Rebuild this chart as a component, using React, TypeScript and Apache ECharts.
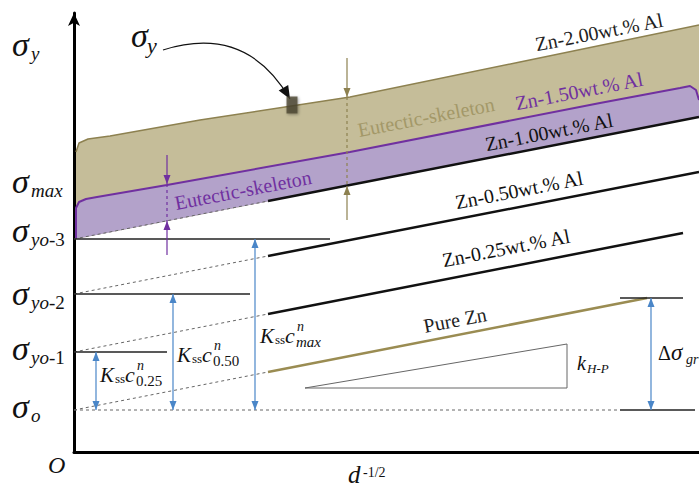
import React, { useEffect, useRef } from "react";
import * as echarts from "echarts";

// Hall–Petch schematic for Zn–Al alloys: x is d^-1/2, y is yield stress (arbitrary units).

// stress levels marked on the vertical axis
const sigmaO = 42;
const sigmaYo1 = 100;
const sigmaYo2 = 158;
const sigmaYo3 = 213;

// vertical-axis labels (σ with subscript) and where they sit
const yLabelSub = ["y", "max", "yo-3", "yo-2", "yo-1", "o"];
const yLabelAt = [404, 267, 218, 155, 100, 42];

// Hall–Petch lines: dashed extrapolation from the axis, then the solid measured range
const pureZn = [[0, 42], [194, 80], [573, 154]];
const zn025 = [[0, 100], [194, 138], [609, 219]];
const zn050 = [[0, 158], [194, 196], [625, 280]];
const zn100 = [[0, 213], [194, 251], [625, 335]];

// upper boundaries of the eutectic-skeleton bands
const zn150Edge = [[2, 213], [2, 244], [5, 250], [12, 253], [23, 255], [93, 267], [276, 300], [526, 349], [606, 364], [616, 366], [622, 362], [625, 352]];
const zn200Edge = [[2, 300], [5, 309], [14, 313], [36, 316], [126, 332], [276, 355], [446, 390], [625, 427]];

// horizontal reference lines σyo-1..3 and their right ends
const levelValues = [sigmaYo1, sigmaYo2, sigmaYo3];
const levelEnds = [93, 176, 256];

// σo baseline and the Δσgr bracket
const sigmaODashEnd = 546;
const grTopLine = [[546, 154], [609, 154]];
const grBottomLine = [[546, 42], [621, 42]];

// solid-solution arrows Kss·c^n from σo
const kssArrowX = [22, 99, 181, 577];
const kssArrowTop = [sigmaYo1, sigmaYo2, sigmaYo3, 154];
const kssLabelAt = [[26, 70], [103, 90], [186, 109]];
const kssLabelSub = ["0.25", "0.50", "max"];

// eutectic-skeleton thickness markers: [x, outer top, top, bottom, outer bottom]
const oliveBracket = [273, 394, 355, 266, 232];
const purpleBracket = [93, 297, 268, 231, 197];

// slope triangle k_H-P
const hpTriangle = [[231, 64], [493, 64], [493, 108], [231, 64]];

// σy pointer
const sigmaYPoint = [218, 347];
const sigmaYArrow = [[89, 402], [216, 353]];
const sigmaYLabelAt = [57, 405];

// captions along the lines
const captionText = [
  "Zn-2.00wt.% Al",
  "Zn-1.50wt.% Al",
  "Zn-1.00wt.% Al",
  "Eutectic-skeleton",
  "Eutectic-skeleton",
  "Zn-0.50wt.% Al",
  "Zn-0.25wt.% Al",
  "Pure Zn",
];
const captionX = [525, 505, 475, 352, 169, 445, 432, 381];
const captionY = [420, 361, 320, 335, 262, 262, 204, 132];

const kHPLabelAt = [503, 82];
const deltaGrLabelAt = [584, 92];
const originLabelAt = [-26, -21];
const xTitleAt = [274, -31];

// ---- styling ----
const SERIF = '"Liberation Serif", "Times New Roman", serif';
const OLIVE_FILL = "#c5bd99";
const OLIVE_LINE = "#8d8150";
const OLIVE_TEXT = "#a39868";
const PURPLE_FILL = "#b3a2ca";
const PURPLE = "#7030a0";
const BLUE = "#4a86c8";
const PURE_ZN = "#9a8c52";
const DASH_GREY = "#666";
const captionColors = ["#222", PURPLE, "#111", OLIVE_TEXT, PURPLE, "#111", "#111", "#222"];

const txt = (x: number, base: number, text: string, size: number, italic: boolean, color = "#111", align = "left") => ({
  type: "text",
  x,
  y: base - 0.34 * size,
  style: {
    text,
    fontSize: size,
    fontFamily: SERIF,
    fontStyle: italic ? "italic" : "normal",
    fill: color,
    align,
    verticalAlign: "middle",
  },
});

// subscript whose leading letters are italic and the rest upright ("yo-3")
const subText = (x: number, base: number, s: string, size: number, color = "#111") => {
  const m = s.match(/^([a-z]*)(.*)$/) as RegExpMatchArray;
  const parts = [];
  if (m[1]) parts.push(`{i|${m[1]}}`);
  if (m[2]) parts.push(`{u|${m[2]}}`);
  return {
    type: "text",
    x,
    y: base - 0.34 * size,
    style: {
      text: parts.join(""),
      align: "left",
      verticalAlign: "middle",
      rich: {
        i: { fontStyle: "italic", fontSize: size, fontFamily: SERIF, fill: color },
        u: { fontSize: size, fontFamily: SERIF, fill: color },
      },
    },
  };
};

const arrowHead = (tip: number[], from: number[], len: number, hw: number, color: string) => {
  const dx = tip[0] - from[0];
  const dy = tip[1] - from[1];
  const d = Math.hypot(dx, dy) || 1;
  const ux = dx / d;
  const uy = dy / d;
  const bx = tip[0] - ux * len;
  const by = tip[1] - uy * len;
  return {
    type: "polygon",
    shape: { points: [tip, [bx - uy * hw, by + ux * hw], [bx + uy * hw, by - ux * hw]] },
    style: { fill: color },
  };
};

const lineSeries = (data: number[][], color: string, width: number, dashed = false, z = 4) => ({
  type: "line",
  data,
  symbol: "none",
  silent: true,
  clip: false,
  z,
  lineStyle: { color, width, type: dashed ? [3, 3] : "solid" },
});

// vertical arrows: segments [x, from, to], head at "to" (and at "from" when double)
const arrowSeries = (segs: number[][], color: string, double: boolean) => ({
  type: "custom",
  z: 6,
  silent: true,
  data: segs.map((s) => [s[0], s[1]]),
  renderItem: (params: any, api: any) => {
    const s = segs[params.dataIndex];
    const a = api.coord([s[0], s[1]]);
    const b = api.coord([s[0], s[2]]);
    const children: any[] = [
      { type: "line", shape: { x1: a[0], y1: a[1], x2: b[0], y2: b[1] }, style: { stroke: color, lineWidth: 1.2 } },
      arrowHead(b, a, 9, 3.5, color),
    ];
    if (double) children.push(arrowHead(a, b, 9, 3.5, color));
    return { type: "group", children };
  },
});

const polygonSeries = (points: number[][], fill: string, z: number) => ({
  type: "custom",
  z,
  silent: true,
  data: [points[0]],
  renderItem: (_p: any, api: any) => ({
    type: "polygon",
    shape: { points: points.map((p) => api.coord(p)) },
    style: { fill },
  }),
});

const hpLines = [pureZn, zn025, zn050, zn100];
const hpSolidColors = [PURE_ZN, "#111", "#111", "#111"];

function buildOption(): any {
  const series: any[] = [];

  // bands
  series.push(polygonSeries([[2, 213], ...zn200Edge, zn100[2]], OLIVE_FILL, 1));
  series.push(polygonSeries([...zn150Edge, zn100[2]], PURPLE_FILL, 2));
  series.push(lineSeries(zn200Edge, OLIVE_LINE, 1.5, false, 3));
  series.push(lineSeries(zn150Edge, PURPLE, 2, false, 3));

  // Hall–Petch lines
  hpLines.forEach((l, i) => {
    series.push(lineSeries([l[0], l[1]], DASH_GREY, 1, true));
    series.push(lineSeries([l[1], l[2]], hpSolidColors[i], 2.5));
  });

  // reference levels
  levelValues.forEach((v, i) => series.push(lineSeries([[0, v], [levelEnds[i], v]], "#222", 1.6)));
  series.push(lineSeries([[0, sigmaO], [sigmaODashEnd, sigmaO]], DASH_GREY, 1, true));
  series.push(lineSeries(grTopLine, "#222", 1.6));
  series.push(lineSeries(grBottomLine, "#222", 1.6));

  // slope triangle
  series.push(lineSeries(hpTriangle, "#666", 1));

  // Kss c^n arrows
  series.push(arrowSeries(kssArrowX.map((x, i) => [x, sigmaO, kssArrowTop[i]]), BLUE, true));

  // eutectic-skeleton markers
  const ob = oliveBracket;
  series.push(arrowSeries([[ob[0], ob[1], ob[2]], [ob[0], ob[4], ob[3]]], OLIVE_LINE, false));
  series.push(lineSeries([[ob[0], ob[2]], [ob[0], ob[3]]], OLIVE_LINE, 1.2, true, 6));
  const pb = purpleBracket;
  series.push(arrowSeries([[pb[0], pb[1], pb[2]], [pb[0], pb[4], pb[3]]], PURPLE, false));
  series.push(lineSeries([[pb[0], pb[2]], [pb[0], pb[3]]], PURPLE, 1.2, true, 6));

  // σy sample point and pointer
  series.push({
    type: "scatter",
    data: [sigmaYPoint],
    symbol: "rect",
    symbolSize: [11, 17],
    silent: true,
    z: 7,
    itemStyle: { color: "#4a432f", shadowBlur: 3, shadowColor: "rgba(0,0,0,0.45)", shadowOffsetX: 1, shadowOffsetY: 1 },
  });
  series.push({
    type: "custom",
    z: 7,
    silent: true,
    data: [sigmaYArrow[0]],
    renderItem: (_p: any, api: any) => {
      const a = api.coord(sigmaYArrow[0]);
      const b = api.coord(sigmaYArrow[1]);
      const c = 0.4;
      const cp = [(a[0] + b[0]) / 2 - (a[1] - b[1]) * c, (a[1] + b[1]) / 2 - (b[0] - a[0]) * c];
      const lp = api.coord(sigmaYLabelAt);
      return {
        type: "group",
        children: [
          {
            type: "bezierCurve",
            shape: { x1: a[0], y1: a[1], x2: b[0], y2: b[1], cpx1: cp[0], cpy1: cp[1] },
            style: { stroke: "#111", lineWidth: 1.2, fill: null },
          },
          arrowHead(b, cp, 13, 5.5, "#111"),
          txt(lp[0], lp[1], "σ", 34, true),
          txt(lp[0] + 16, lp[1] + 6, "y", 22, true),
        ],
      };
    },
  });

  // rotated captions
  series.push({
    type: "custom",
    z: 8,
    silent: true,
    data: captionX.map((x, i) => [x, captionY[i]]),
    renderItem: (params: any, api: any) => {
      const i = params.dataIndex;
      const p = api.coord([captionX[i], captionY[i]]);
      const q0 = api.coord(zn050[1]);
      const q1 = api.coord(zn050[2]);
      const ang = -Math.atan2(q1[1] - q0[1], q1[0] - q0[0]);
      return {
        type: "text",
        x: p[0],
        y: p[1],
        rotation: ang,
        style: {
          text: captionText[i],
          fontSize: 20,
          fontFamily: SERIF,
          fill: captionColors[i],
          align: "center",
          verticalAlign: "middle",
        },
      };
    },
  });

  // formulas and axis labels
  series.push({
    type: "custom",
    z: 8,
    silent: true,
    data: [[0, 0]],
    renderItem: (_p: any, api: any) => {
      const children: any[] = [];
      // σ labels on the vertical axis
      yLabelAt.forEach((v, i) => {
        const p = api.coord([0, v]);
        const x0 = p[0] - 62;
        const base = p[1] + 8;
        children.push(txt(x0, base, "σ", 34, true));
        children.push(subText(x0 + 19, base + 4, yLabelSub[i], 19));
      });
      // Kss c^n_x
      kssLabelAt.forEach((a, i) => {
        const p = api.coord(a);
        const sub = kssLabelSub[i];
        children.push(txt(p[0], p[1], "K", 21, true));
        children.push(txt(p[0] + 15, p[1] + 1, "ss", 13, false));
        children.push(txt(p[0] + 25, p[1], "c", 22, true));
        children.push(txt(p[0] + 37, p[1] - 12, "n", 14, true));
        children.push(txt(p[0] + 36, p[1] + 4, sub, 15, sub === "max"));
      });
      // k_H-P
      const k = api.coord(kHPLabelAt);
      children.push(txt(k[0], k[1], "k", 20, true));
      children.push(txt(k[0] + 10, k[1] + 3, "H-P", 13, true));
      // Δσ_gr
      const g = api.coord(deltaGrLabelAt);
      children.push(txt(g[0], g[1], "Δ", 20, false));
      children.push(txt(g[0] + 13, g[1], "σ", 23, true));
      children.push(txt(g[0] + 28, g[1] + 4, "gr", 14, true));
      // origin and x title
      const o = api.coord(originLabelAt);
      children.push(txt(o[0], o[1], "O", 24, true));
      const d = api.coord(xTitleAt);
      children.push(txt(d[0], d[1], "d", 25, true));
      children.push(txt(d[0] + 15, d[1] - 6, "-1/2", 14, false));
      return { type: "group", children };
    },
  });

  return {
    animation: false,
    backgroundColor: "#fff",
    grid: { left: 74, right: 0, top: 13, bottom: 37, containLabel: false },
    xAxis: {
      type: "value",
      min: 0,
      max: 625,
      axisLine: { show: true, onZero: false, lineStyle: { color: "#000", width: 3 } },
      axisTick: { show: false },
      axisLabel: { show: false },
      splitLine: { show: false },
    },
    yAxis: {
      type: "value",
      min: 0,
      max: 439,
      axisLine: {
        show: true,
        onZero: false,
        symbol: ["none", "arrow"],
        symbolSize: [9, 13],
        lineStyle: { color: "#000", width: 3 },
      },
      axisTick: { show: false },
      axisLabel: { show: false },
      splitLine: { show: false },
    },
    series,
  };
}

export default function App() {
  const ref = useRef<HTMLDivElement>(null);
  useEffect(() => {
    const chart = echarts.init(ref.current as HTMLDivElement, null, { renderer: "svg" });
    chart.setOption(buildOption());
    return () => chart.dispose();
  }, []);
  return (
    <div
      ref={ref}
      style={{ position: "fixed", left: 0, top: 0, width: 699, height: 489, background: "#fff" }}
    />
  );
}
